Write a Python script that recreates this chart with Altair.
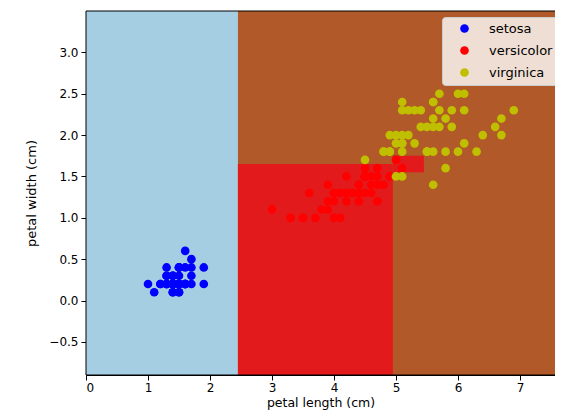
import altair as alt
import pandas as pd

# iris petal length / width
setosa_len = [1.4,1.4,1.3,1.5,1.4,1.7,1.4,1.5,1.4,1.5,1.5,1.6,1.4,1.1,1.2,1.5,1.3,1.4,1.7,1.5,
              1.7,1.5,1.0,1.7,1.9,1.6,1.6,1.5,1.4,1.6,1.6,1.5,1.5,1.4,1.5,1.2,1.3,1.4,1.3,1.5,
              1.3,1.3,1.3,1.6,1.9,1.4,1.6,1.4,1.5,1.4]
setosa_wid = [0.2,0.2,0.2,0.2,0.2,0.4,0.3,0.2,0.2,0.1,0.2,0.2,0.1,0.1,0.2,0.4,0.4,0.3,0.3,0.3,
              0.2,0.4,0.2,0.5,0.2,0.2,0.4,0.2,0.2,0.2,0.2,0.4,0.1,0.2,0.2,0.2,0.2,0.1,0.2,0.2,
              0.3,0.3,0.2,0.6,0.4,0.3,0.2,0.2,0.2,0.2]
versicolor_len = [4.7,4.5,4.9,4.0,4.6,4.5,4.7,3.3,4.6,3.9,3.5,4.2,4.0,4.7,3.6,4.4,4.5,4.1,4.5,3.9,
                  4.8,4.0,4.9,4.7,4.3,4.4,4.8,5.0,4.5,3.5,3.8,3.7,3.9,5.1,4.5,4.5,4.7,4.4,4.1,4.0,
                  4.4,4.6,4.0,3.3,4.2,4.2,4.2,4.3,3.0,4.1]
versicolor_wid = [1.4,1.5,1.5,1.3,1.5,1.3,1.6,1.0,1.3,1.4,1.0,1.5,1.0,1.4,1.3,1.4,1.5,1.0,1.5,1.1,
                  1.8,1.3,1.5,1.2,1.3,1.4,1.4,1.7,1.5,1.0,1.1,1.0,1.2,1.6,1.5,1.6,1.5,1.3,1.3,1.3,
                  1.2,1.4,1.2,1.0,1.3,1.2,1.3,1.3,1.1,1.3]
virginica_len = [6.0,5.1,5.9,5.6,5.8,6.6,4.5,6.3,5.8,6.1,5.1,5.3,5.5,5.0,5.1,5.3,5.5,6.7,6.9,5.0,
                 5.7,4.9,6.7,4.9,5.7,6.0,4.8,4.9,5.6,5.8,6.1,6.4,5.6,5.1,5.6,6.1,5.6,5.5,4.8,5.4,
                 5.6,5.1,5.1,5.9,5.7,5.2,5.0,5.2,5.4,5.1]
virginica_wid = [2.5,1.9,2.1,1.8,2.2,2.1,1.7,1.8,1.8,2.5,2.0,1.9,2.1,2.0,2.4,2.3,1.8,2.2,2.3,1.5,
                 2.3,2.0,2.0,1.8,2.1,1.8,1.8,1.8,2.1,1.6,1.9,2.0,2.2,1.5,1.4,2.3,2.4,1.8,1.8,2.1,
                 2.4,2.3,1.9,2.3,2.5,2.3,1.9,2.0,2.3,1.8]

# full axis extent of the original plot (x is cut by the picture edge)
x_full = [0.0, 7.9]
y_full = [-0.9, 3.5]
x_visible_max = 7.565

# decision regions of the fitted tree, drawn in this order
reg_x1 = [0.0, 2.45, 2.45, 4.95]
reg_x2 = [2.45, 7.9, 4.95, 5.45]
reg_y1 = [-0.9, -0.9, -0.9, 1.55]
reg_y2 = [3.5, 3.5, 1.65, 1.75]
reg_cls = ["setosa", "virginica", "versicolor", "versicolor"]

classes = ["setosa", "versicolor", "virginica"]
region_colors = ["#a6cee3", "#e31a1c", "#b15928"]
point_colors = ["#0000ff", "#ff0000", "#bfbf00"]

regions = pd.DataFrame({
    "x1": reg_x1,
    "x2": reg_x2,
    "y1": reg_y1,
    "y2": reg_y2,
    "cls": reg_cls,
    "o": list(range(len(reg_x1))),
})

pts = pd.DataFrame({
    "pl": setosa_len + versicolor_len + virginica_len,
    "pw": setosa_wid + versicolor_wid + virginica_wid,
    "species": ["setosa"] * 50 + ["versicolor"] * 50 + ["virginica"] * 50,
})

frame = pd.DataFrame({"x1": [x_full[0]], "x2": [x_full[1]], "y1": [y_full[0]], "y2": [y_full[1]]})

xs = alt.Scale(domain=[x_full[0], x_visible_max], nice=False, zero=False)
ys = alt.Scale(domain=y_full, nice=False, zero=False)

xaxis = alt.Axis(title="petal length (cm)", values=[0, 1, 2, 3, 4, 5, 6, 7], format="d",
                 grid=False, tickSize=5, labelPadding=2, titleFontSize=12.5,
                 titleY=27.5, titleBaseline="middle")
yaxis = alt.Axis(title="petal width (cm)", values=[-0.5, 0, 0.5, 1, 1.5, 2, 2.5, 3], format=".1f",
                 grid=False, tickSize=5, labelPadding=3, titleFontSize=13,
                 titleX=-55, titleY=182, titleBaseline="middle")

rects = alt.Chart(regions).mark_rect(opacity=1).encode(
    x=alt.X("x1:Q", scale=xs, axis=xaxis),
    x2="x2:Q",
    y=alt.Y("y1:Q", scale=ys, axis=yaxis),
    y2="y2:Q",
    color=alt.Color("cls:N", scale=alt.Scale(domain=classes, range=region_colors), legend=None),
    order="o:Q",
)

points = alt.Chart(pts).mark_point(filled=True, opacity=1, size=75, shape="circle").encode(
    x=alt.X("pl:Q", scale=xs),
    y=alt.Y("pw:Q", scale=ys),
    fill=alt.Fill("species:N", scale=alt.Scale(domain=classes, range=point_colors),
                  legend=alt.Legend(title=None, orient="none", legendX=356, legendY=6,
                                    fillColor="rgba(255,255,255,0.8)", strokeColor="#cccccc",
                                    cornerRadius=3, padding=5, symbolOffset=11,
                                    labelOffset=18, rowPadding=8, symbolSize=75,
                                    labelFontSize=13, labelFont="DejaVu Sans",
                                    labelColor="#000000", symbolType="circle")),
)

border = alt.Chart(frame).mark_rect(filled=False, stroke="#000000", strokeWidth=1).encode(
    x=alt.X("x1:Q", scale=xs),
    x2="x2:Q",
    y=alt.Y("y1:Q", scale=ys),
    y2="y2:Q",
)

chart = alt.layer(rects, points, border).resolve_scale(color="independent").properties(
    width=469, height=364,
    autosize=alt.AutoSizeParams(type="none"),
    padding={"left": 78, "top": 3, "right": 0, "bottom": 35},
).configure_view(stroke=None).configure_axis(
    labelFont="DejaVu Sans", titleFont="DejaVu Sans", labelFontSize=12,
    labelColor="#000000", titleColor="#000000", tickColor="#000000", domainColor="#000000",
    titleFontWeight="normal",
)

chart.save("out.html", embed_options={"renderer": "svg", "actions": False})
